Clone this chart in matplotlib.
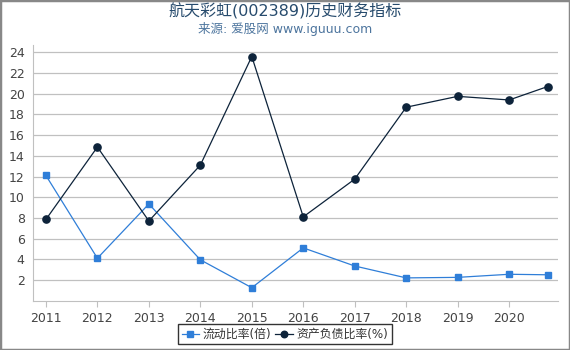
import matplotlib
matplotlib.use("Agg")
import matplotlib.pyplot as plt
from matplotlib.patches import Rectangle

plt.rcParams["font.family"] = ["DejaVu Sans", "Noto Sans CJK SC"]
plt.rcParams["axes.unicode_minus"] = False

# ── 資料 ──
years = [2011, 2012, 2013, 2014, 2015, 2016, 2017, 2018, 2019, 2020, 2020.75]
current_ratio = [12.1, 4.1, 9.35, 3.95, 1.25, 5.1, 3.35, 2.2, 2.25, 2.55, 2.5]
debt_ratio = [7.85, 14.85, 7.7, 13.1, 23.6, 8.1, 11.75, 18.7, 19.75, 19.4, 20.7]
xticks = [2011, 2012, 2013, 2014, 2015, 2016, 2017, 2018, 2019, 2020]
yticks = list(range(2, 25, 2))

BLUE = "#2f7ed8"
NAVY = "#0d233a"

fig = plt.figure(figsize=(5.7, 3.5), dpi=100)
ax = fig.add_axes([0.058, 0.141, 0.921, 0.73])

ax.plot(years, current_ratio, color=BLUE, lw=0.9, marker="s", ms=5,
        mfc=BLUE, mec=BLUE, label="流动比率(倍)", zorder=3)
ax.plot(years, debt_ratio, color=NAVY, lw=0.9, marker="o", ms=5.2,
        mfc=NAVY, mec=NAVY, label="资产负债比率(%)", zorder=3)

ax.set_xlim(2010.75, 2020.95)
ax.set_ylim(0, 24.7)
ax.set_xticks(xticks)
ax.set_yticks(yticks)
ax.grid(axis="y", color="#c0c0c0", lw=0.9)
ax.set_axisbelow(True)
for s in ["top", "right"]:
    ax.spines[s].set_visible(False)
for s in ["left", "bottom"]:
    ax.spines[s].set_color("#c0c0c0")
ax.tick_params(axis="both", colors="#444444", labelsize=9, length=0)
ax.tick_params(axis="y", pad=6)
ax.tick_params(axis="x", pad=4, length=4, color="#c0c0c0")

fig.text(0.5, 0.968, "航天彩虹(002389)历史财务指标", ha="center", va="center",
         fontsize=11.5, color="#274b6d")
fig.text(0.5, 0.918, "来源: 爱股网 www.iguuu.com", ha="center", va="center",
         fontsize=9, color="#4d759e")

leg = fig.legend(loc="center", bbox_to_anchor=(0.5, 0.045), ncol=2, fontsize=8.6,
                 frameon=True, fancybox=False, edgecolor="black",
                 handlelength=1.5, handletextpad=0.3, columnspacing=0.3,
                 borderpad=0.3, markerscale=0.9)
leg.get_frame().set_linewidth(1.0)
for t in leg.get_texts():
    t.set_color("#333333")

fig.patches.append(Rectangle((0, 0), 1, 1, transform=fig.transFigure,
                             fill=False, edgecolor="#888888", lw=2.5))

fig.savefig("out.png", dpi=100)
